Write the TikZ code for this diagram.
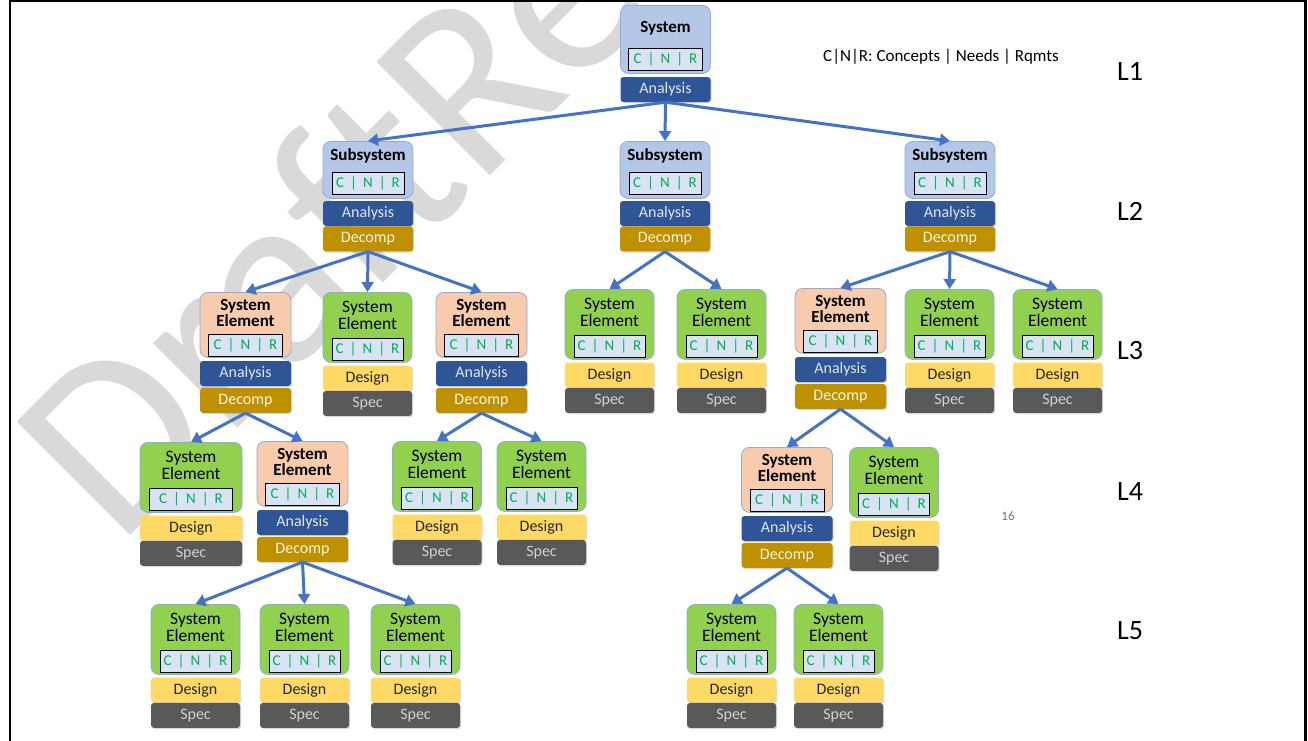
\documentclass[tikz,border=0pt]{standalone}
\usepackage{fontspec}
\setmainfont{Carlito}
\usetikzlibrary{arrows.meta, positioning, shadows}

\definecolor{sysblue}{HTML}{B4C7E7}
\definecolor{anablue}{HTML}{2F5597}
\definecolor{decgold}{HTML}{BF9000}
\definecolor{elpeach}{HTML}{F8CBAD}
\definecolor{elgreen}{HTML}{92D050}
\definecolor{desyellow}{HTML}{FFD966}
\definecolor{specgray}{HTML}{595959}
\definecolor{cnrfill}{HTML}{DAE3F3}
\definecolor{cnrgreen}{HTML}{00B050}
\definecolor{edgeblue}{HTML}{8FAADC}
\definecolor{arrowblue}{HTML}{4472C4}
\definecolor{markgray}{HTML}{D9D9D9}

\newcommand{\cnrlabel}{C\hspace{6pt}|\hspace{6pt}N\hspace{6pt}|\hspace{6pt}R}

\begin{document}
\begin{tikzpicture}[x=1pt, y=-1pt,
        block/.style={draw=edgeblue, line width=0.8pt, rounded corners=8pt, inner sep=0pt, anchor=north},
        sysbox/.style={block, fill=sysblue, minimum width=90pt},
        peachbox/.style={block, fill=elpeach, minimum width=91pt, minimum height=65pt},
        greenbox/.style={block, fill=elgreen, minimum height=70pt},
        boldtitle/.style={font=\fontsize{17}{16}\selectfont\bfseries, align=center, inner sep=0pt, anchor=north},
        plaintitle/.style={font=\fontsize{17.5}{16.5}\selectfont, align=center, inner sep=0pt, anchor=north},
        cnr/.style={draw=black, line width=0.8pt, fill=cnrfill, text=cnrgreen, minimum height=22pt, inner sep=0pt, anchor=south, font=\fontsize{15}{15}\selectfont},
        bar/.style={rounded corners=3pt, minimum height=25pt, inner sep=0pt, font=\fontsize{16}{16}\selectfont, drop shadow={shadow xshift=1.2pt, shadow yshift=-1.2pt, opacity=0.3}},
        analysis/.style={bar, fill=anablue, text=white!85!anablue},
        decomp/.style={bar, fill=decgold, text=white!90!decgold},
        design/.style={bar, fill=desyellow, text=black!85},
        spec/.style={bar, fill=specgray, text=white!82!black},
        link/.style={draw=arrowblue, line width=3pt, -{Triangle[length=10pt, width=12pt]}},
        level/.style={font=\fontsize{28}{28}\selectfont},
        watermark/.style={font=\fontsize{250}{250}\selectfont, text=markgray, inner sep=0pt}
    ]
        \useasboundingbox (0,0) rectangle (1308,740);

        % Watermark and frame
        \node[watermark, rotate=45, anchor=base west] (mark) at (118,548) {DraftRe};
        \draw[line width=2.5pt] (10,745) -- (10,1.2) -- (1305.5,1.2) -- (1305.5,745);

        % Level 1
        \node[sysbox, minimum height=68pt] (sys) at (665.5,5) {};
        \node[boldtitle] (sys-t) at ([yshift=-16pt]sys.north) {System};
        \node[cnr, minimum width=74pt] (sys-c) at ([yshift=3pt]sys.south) {\cnrlabel};
        \node[analysis, minimum width=90pt, below=3pt of sys] (sys-an) {Analysis};

        % Subsystems
        \foreach \n/\x in {s1/368, s2/665, s3/950} {
            \node[sysbox, minimum height=57pt] (\n) at (\x,141) {};
            \node[boldtitle] (\n-t) at ([yshift=-7pt]\n.north) {Subsystem};
            \node[cnr, minimum width=72pt] (\n-c) at ([yshift=4pt]\n.south) {\cnrlabel};
            \node[analysis, minimum width=90pt, below=2pt of \n] (\n-an) {Analysis};
            \node[decomp, minimum width=90pt, below=0pt of \n-an] (\n-dc) {Decomp};
        }

        % Elements that are decomposed further
        \foreach \n/\x/\y in {p1/245.5/292, p2/481.5/292, p3/840.5/288, p4/302.5/441, p5/787/447} {
            \node[peachbox] (\n) at (\x,\y) {};
            \node[boldtitle] (\n-t) at ([yshift=-7pt]\n.north) {System\\Element};
            \node[cnr, minimum width=74pt] (\n-c) at ([yshift=1.5pt]\n.south) {\cnrlabel};
            \node[analysis, minimum width=91pt, below=3pt of \n] (\n-an) {Analysis};
            \node[decomp, minimum width=91pt, below=1.5pt of \n-an] (\n-dc) {Decomp};
        }

        % Leaf elements
        \foreach \n/\x/\y/\w/\c in {g1/367.5/292/89/71, g2/609.5/289/89/71, g3/721.5/289/89/71,
                g4/949.5/289/89/71, g5/1057.5/289/89/71, g6/191/442/102/83, g7/437/441/89/71,
                g8/541.5/441/89/71, g9/894/447/89/71, g10/195.5/604/89/71, g11/304.5/604/89/71,
                g12/415.5/604/89/71, g13/731.5/604/89/71, g14/838.5/604/89/71} {
            \node[greenbox, minimum width=\w pt] (\n) at (\x,\y) {};
            \node[plaintitle] (\n-t) at ([yshift=-9pt]\n.north) {System\\Element};
            \node[cnr, minimum width=\c pt] (\n-c) at ([yshift=2pt]\n.south) {\cnrlabel};
            \node[design, minimum width=\w pt, below=2.5pt of \n] (\n-de) {Design};
            \node[spec, minimum width=\w pt, below=0pt of \n-de] (\n-sp) {Spec};
        }

        % Connectors
        \foreach \c in {s1, s2, s3}
            \draw[link] (sys-an.south) -- (\c.north);
        \foreach \p/\c in {s1/p1, s1/g1, s1/p2, s2/g2, s2/g3, s3/p3, s3/g4, s3/g5,
                p1/g6, p1/p4, p2/g7, p2/g8, p3/p5, p3/g9, p4/g10, p4/g11, p4/g12, p5/g13, p5/g14}
            \draw[link] (\p-dc.south) -- (\c.north);

        % Levels and notes
        \foreach \i/\y in {1/71, 2/211, 3/351, 4/491, 5/631}
            \node[level] (lvl\i) at (1130,\y) {L\i};
        \node[font=\fontsize{17}{17}\selectfont] (legend) at (941,57) {C|N|R: Concepts | Needs | Rqmts};
        \node[font=\fontsize{13}{13}\selectfont, text=black!55] (pagenum) at (1008,516) {16};

    \end{tikzpicture}
\end{document}
